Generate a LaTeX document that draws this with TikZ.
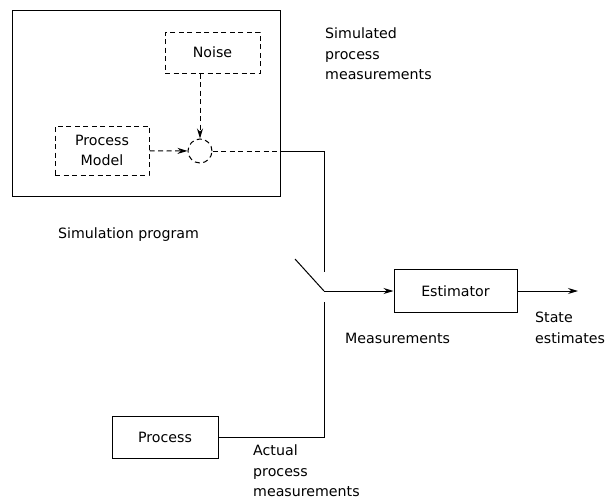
\documentclass[tikz,border=0pt]{standalone}
\usepackage{fontspec}
\setmainfont{DejaVu Sans}
\usetikzlibrary{arrows.meta}
\begin{document}
\begin{tikzpicture}[x=1pt,y=-1pt,
  every node/.style={font=\fontsize{14.2}{20.5}\selectfont},
  wire/.style={line width=1pt},
  dashwire/.style={wire, dash pattern=on 5pt off 3.5pt},
  arr/.style={-{Stealth[length=10pt,width=6pt]}},
  solidbox/.style={draw, wire, inner sep=0pt},
  dashbox/.style={draw, dashwire, inner sep=0pt},
  lbl/.style={anchor=west, inner sep=0pt, align=left}
]
\useasboundingbox (0,0) rectangle (607,501);

% simulation program enclosure
\node[solidbox, minimum width=268pt, minimum height=186pt] (simbox) at (146,103) {};

% blocks inside the simulation
\node[dashbox, minimum width=95pt, minimum height=41pt] (noise) at (212.5,52.5) {Noise};
\node[dashbox, minimum width=94pt, minimum height=49pt, align=center] (model) at (102,150.5) {Process\\Model};
\node[draw, dashwire, circle, minimum size=24pt, inner sep=0pt] (sum) at (200,151) {};

% estimator and real process
\node[solidbox, minimum width=123pt, minimum height=43pt] (est) at (455.5,291) {Estimator};
\node[solidbox, minimum width=106pt, minimum height=42pt] (proc) at (165,437) {Process};

% switch contacts
\coordinate (swtop) at (324,272);
\coordinate (swpivot) at (324,291);
\coordinate (swblade) at (295,259);
\coordinate (swbot) at (324,302);
\coordinate (out) at (578,291);

% connectors
\draw[dashwire, arr] (sum.north |- noise.south) -- (sum.north);
\draw[dashwire, arr] (model) -- (sum);
\draw[dashwire] (sum.east) -- (sum.east -| simbox.east);
\draw[wire] (sum.east -| simbox.east) -| (swtop);
\draw[wire] (swblade) -- (swpivot);
\draw[wire, arr] (swpivot) -- (est);
\draw[wire, arr] (est) -- (out);
\draw[wire] (proc) -| (swbot);

% labels
\node[lbl] (simlbl) at (325,54) {Simulated\\process\\measurements};
\node[lbl] (simprog) at (58,235) {Simulation program};
\node[lbl] (meas) at (345,338) {Measurements};
\node[lbl] (state) at (535,328) {State\\estimates};
\node[lbl] (actual) at (253,471) {Actual\\process\\measurements};
\end{tikzpicture}
\end{document}
